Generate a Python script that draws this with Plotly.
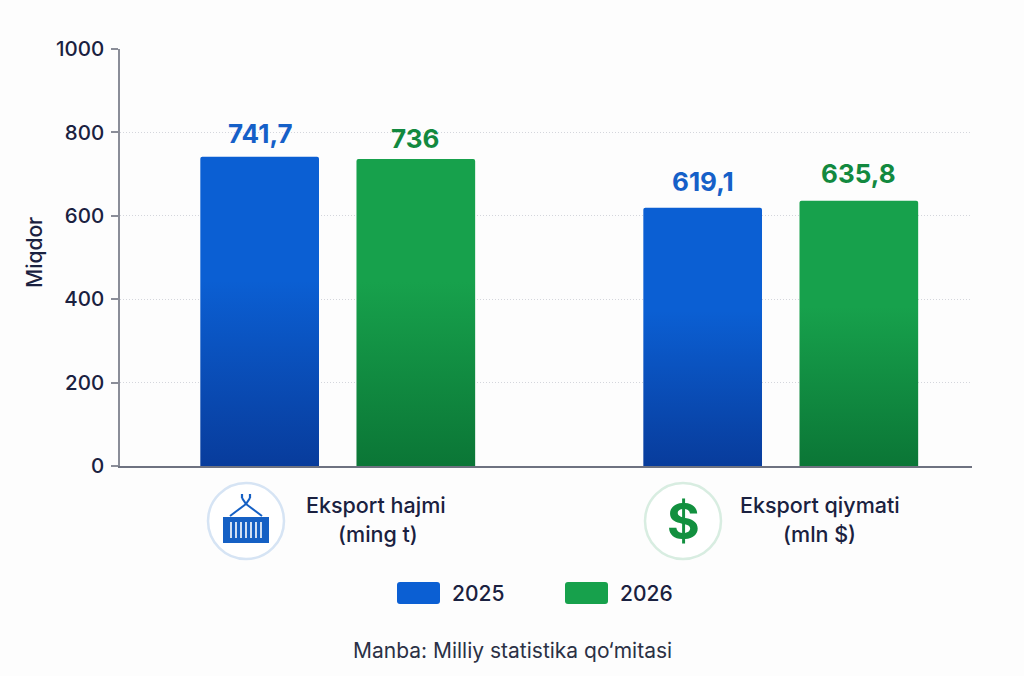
import plotly.graph_objects as go

# Chart data
categories = ["Eksport hajmi (ming t)", "Eksport qiymati (mln $)"]
values_2025 = [741.7, 619.1]
values_2026 = [736, 635.8]
labels_2025 = ["741,7", "619,1"]
labels_2026 = ["736", "635,8"]
y_ticks = [0, 200, 400, 600, 800, 1000]

# Palette and page geometry
BLUE, BLUE_DARK = "#0B5FD3", "#083C9C"
GREEN, GREEN_DARK = "#17A14C", "#0B7636"
BLUE_TEXT, GREEN_TEXT = "#1560C8", "#12893F"
ICON_BLUE = "#1560C4"
INK = "#1A2140"
W, H = 1024, 676
PLOT_L, PLOT_R, PLOT_T, PLOT_B = 120, 972, 49, 466
FONT = "Inter"
BAR_OFFSET = 0.175  # distance of each bar's centre from its category centre


def px(x):
    return (x - PLOT_L) / (PLOT_R - PLOT_L)


def py(y):
    return (PLOT_B - y) / (PLOT_B - PLOT_T)


def line(x0, y0, x1, y1, color, width):
    return dict(type="line", xref="paper", yref="paper", x0=px(x0), y0=py(y0), x1=px(x1), y1=py(y1),
                line=dict(color=color, width=width), layer="above")


def rect(x0, y0, x1, y1, color):
    return dict(type="rect", xref="paper", yref="paper", x0=px(x0), y0=py(y0), x1=px(x1), y1=py(y1),
                fillcolor=color, line=dict(width=0), layer="above")


def ring(cx, cy, r, color, fill="#FFFFFF"):
    return dict(type="circle", xref="paper", yref="paper", x0=px(cx - r), y0=py(cy - r), x1=px(cx + r), y1=py(cy + r),
                fillcolor=fill, line=dict(color=color, width=2.5), layer="below")


def swatch(x0, y0, x1, y1, color):
    r = 3
    path = (f"M{px(x0 + r)},{py(y0)} L{px(x1 - r)},{py(y0)} Q{px(x1)},{py(y0)} {px(x1)},{py(y0 + r)} "
            f"L{px(x1)},{py(y1 - r)} Q{px(x1)},{py(y1)} {px(x1 - r)},{py(y1)} L{px(x0 + r)},{py(y1)} "
            f"Q{px(x0)},{py(y1)} {px(x0)},{py(y1 - r)} L{px(x0)},{py(y0 + r)} Q{px(x0)},{py(y0)} {px(x0 + r)},{py(y0)} Z")
    return dict(type="path", xref="paper", yref="paper", path=path, fillcolor=color, line=dict(width=0), layer="above")


def caption(x, y, text, size=21, color=INK, weight=500, angle=0):
    return dict(xref="paper", yref="paper", x=px(x), y=py(y), text=text, showarrow=False, textangle=angle,
                xanchor="center", yanchor="middle", font=dict(family=FONT, size=size, color=color, weight=weight))


def value_label(index, offset, value, text, color, lift):
    return dict(xref="x", yref="y", x=index + offset, y=value, text=text, showarrow=False,
                xanchor="center", yanchor="middle", yshift=lift,
                font=dict(family=FONT, size=26, color=color, weight=700))


fig = go.Figure()
fig.add_bar(name="2025", x=categories, y=values_2025, marker_color=BLUE)
fig.add_bar(name="2026", x=categories, y=values_2026, marker_color=GREEN)
fig.update_traces(marker_line_width=0)

# Container icon and dollar badge below the category groups
shapes = [ring(246, 521, 38, "#D6E4F4"), ring(683, 521, 38, "#D8EDE1")]
shapes += [rect(223, 517, 269, 543, ICON_BLUE)]
shapes += [line(x, 522, x, 538, "#FFFFFF", 1.6) for x in (231, 236, 241, 246, 251, 256, 261)]
shapes += [line(230, 516, 246, 504, ICON_BLUE, 2), line(262, 516, 246, 504, ICON_BLUE, 2),
           line(242, 494, 242, 498, ICON_BLUE, 2.2), line(250, 494, 250, 498, ICON_BLUE, 2.2),
           line(242, 498, 246, 504, ICON_BLUE, 2.2), line(250, 498, 246, 504, ICON_BLUE, 2.2)]
# Legend swatches
shapes += [swatch(397, 582, 440, 604, BLUE), swatch(565, 582, 608, 604, GREEN)]

annotations = [
    caption(376, 505, "Eksport hajmi", size=21.5),
    caption(378, 534, "(ming t)", size=21.5),
    caption(820, 505, "Eksport qiymati", size=21.5),
    caption(819, 534, "(mln $)", size=21.5),
    caption(683, 521, "$", size=50, color="#12903F", weight=700),
    caption(478, 593, "2025"),
    caption(646, 593, "2026"),
    caption(512, 650, "Manba: Milliy statistika qo‘mitasi", size=21, color="#2B3145", weight=400),
    caption(35, 253, "Miqdor", size=21, angle=-90),
]
# Value labels sit above their own bars
for i, (v, t, lift) in enumerate(zip(values_2025, labels_2025, (23, 26))):
    annotations.append(value_label(i, -BAR_OFFSET, v, t, BLUE_TEXT, lift))
for i, (v, t, lift) in enumerate(zip(values_2026, labels_2026, (21, 27))):
    annotations.append(value_label(i, BAR_OFFSET, v, t, GREEN_TEXT, lift))

fig.update_layout(
    width=W, height=H,
    margin=dict(l=PLOT_L, r=W - PLOT_R, t=PLOT_T, b=H - PLOT_B, autoexpand=False),
    paper_bgcolor="#FDFDFD", plot_bgcolor="#FDFDFD",
    barmode="group", bargap=0.295, bargroupgap=0.24, barcornerradius=2,
    showlegend=False,
    shapes=shapes, annotations=annotations,
    font=dict(family=FONT, color=INK),
    xaxis=dict(type="category", range=[-0.4915, 1.4317], showticklabels=False, ticks="",
               showline=True, linecolor="#6E7280", linewidth=2, showgrid=False, zeroline=False),
    yaxis=dict(range=[0, 1000], tickvals=y_ticks, showline=True, linecolor="#8A8D98", linewidth=1.5,
               ticks="outside", ticklen=7, tickcolor="#8A8D98", tickwidth=1.5, ticklabelstandoff=3,
               tickfont=dict(family=FONT, size=20.5, color=INK, weight=500),
               showgrid=True, gridcolor="#D4D6DC", griddash="1px,2px", gridwidth=1, zeroline=False),
)

# Vertical shading on the bars, applied to the rendered SVG paths
shade = """
var gd = document.querySelector('.js-plotly-plot');
var svg = gd.querySelector('svg.main-svg');
var ns = 'http://www.w3.org/2000/svg';
var defs = svg.querySelector('defs');
[['barBlue', '%s', '%s'], ['barGreen', '%s', '%s']].forEach(function (g, i) {
  var lg = document.createElementNS(ns, 'linearGradient');
  lg.setAttribute('id', g[0]);
  lg.setAttribute('x1', '0'); lg.setAttribute('y1', '0');
  lg.setAttribute('x2', '0'); lg.setAttribute('y2', '1');
  [[0.4, g[1]], [1, g[2]]].forEach(function (s) {
    var st = document.createElementNS(ns, 'stop');
    st.setAttribute('offset', s[0]);
    st.setAttribute('stop-color', s[1]);
    lg.appendChild(st);
  });
  defs.appendChild(lg);
  gd.querySelectorAll('.trace.bars')[i].querySelectorAll('.point path').forEach(function (p) {
    p.style.fill = 'url(#' + g[0] + ')';
  });
});
""" % (BLUE, BLUE_DARK, GREEN, GREEN_DARK)

fig.write_html("out.html", post_script=shade, config=dict(displayModeBar=False))
